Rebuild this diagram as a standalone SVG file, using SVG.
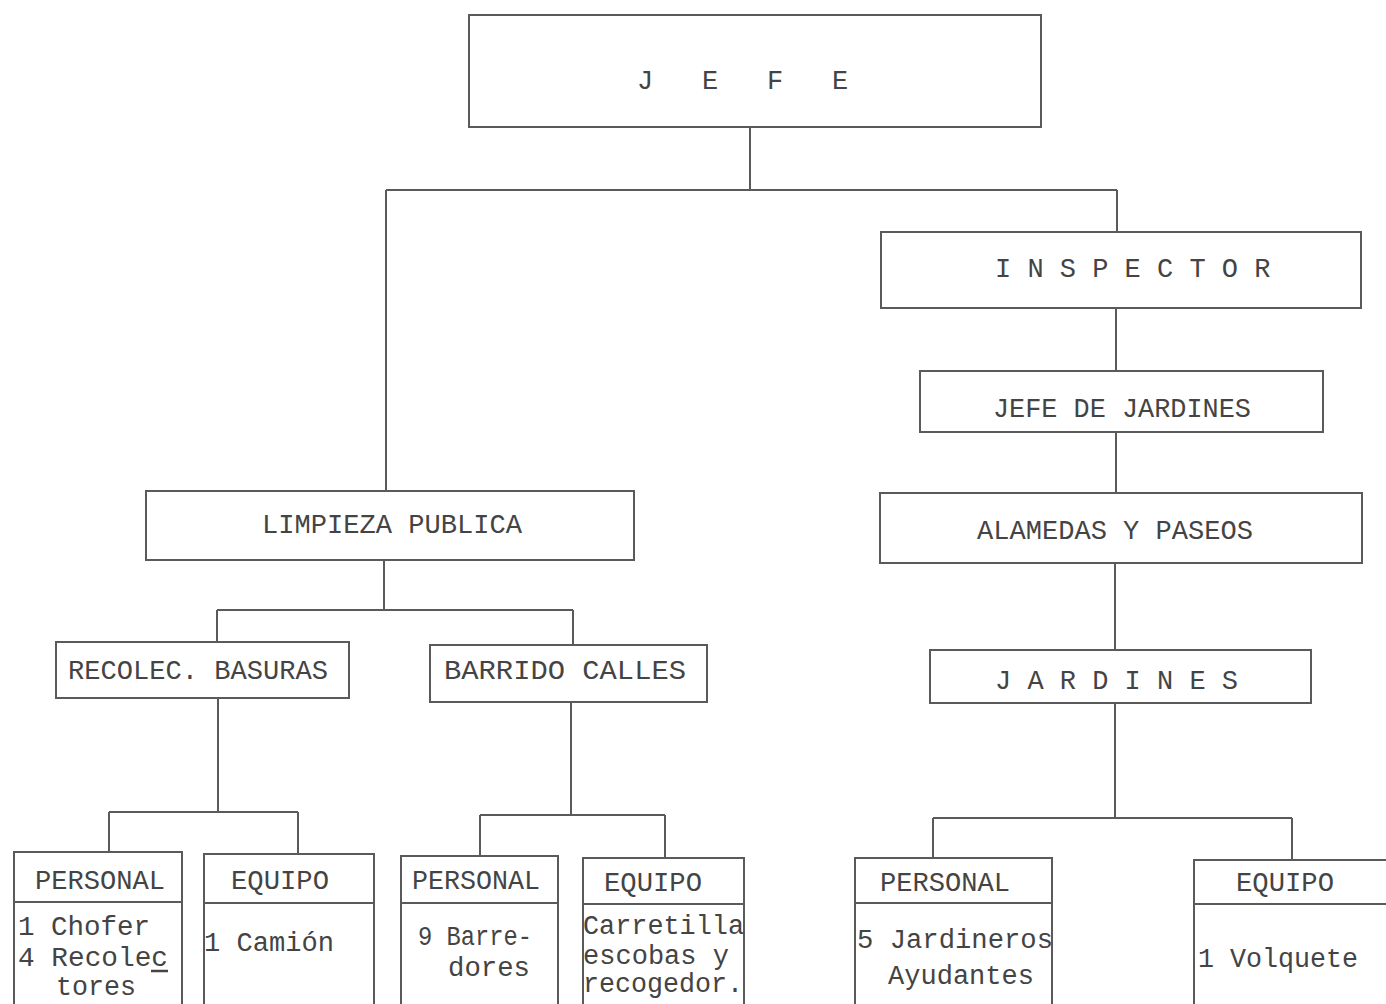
<svg xmlns="http://www.w3.org/2000/svg" width="1386" height="1004" viewBox="0 0 1386 1004">
<style>
.b{fill:none;stroke:#5a5a5a;stroke-width:2}
.c{fill:none;stroke:#5a5a5a;stroke-width:2}
text{font-family:"Liberation Mono","DejaVu Sans Mono",monospace;font-size:27px;fill:#444444}
</style>
<rect width="1386" height="1004" fill="#ffffff"/>
<g id="connectors">
<path class="c" d="M750 127V190M386 190H1117M386 190V490M1117 190V232"/>
<path class="c" d="M1116 308V372M1116 432V493M1115 563V650M1115 703V818M933 818H1292M933 818V858M1292 818V860"/>
<path class="c" d="M384 560V610M217 610H573M217 610V642M573 610V645"/>
<path class="c" d="M218 698V812M109 812H298M109 812V852M298 812V854"/>
<path class="c" d="M571 702V815M480 815H665M480 815V856M665 815V858"/>
</g>
<g id="jefe"><rect class="b" x="469" y="15" width="572" height="112"/>
<text x="637 702 767 832" y="89">JEFE</text></g>
<g id="inspector"><rect class="b" x="881" y="232" width="480" height="76"/>
<text x="995 1027.4 1059.8 1092.2 1124.6 1157 1189.4 1221.8 1254.2" y="277">INSPECTOR</text></g>
<g id="jefe-jardines"><rect class="b" x="920" y="371" width="403" height="61"/>
<text x="1122" y="417" text-anchor="middle" textLength="258" lengthAdjust="spacingAndGlyphs">JEFE DE JARDINES</text></g>
<g id="alamedas"><rect class="b" x="880" y="493" width="482" height="70"/>
<text x="1115" y="539" text-anchor="middle" textLength="276" lengthAdjust="spacingAndGlyphs">ALAMEDAS Y PASEOS</text></g>
<g id="jardines"><rect class="b" x="930" y="650" width="381" height="53"/>
<text x="995 1027.4 1059.8 1092.2 1124.6 1157 1189.4 1221.8" y="689">JARDINES</text></g>
<g id="jardines-personal"><rect class="b" x="855" y="858" width="197" height="150"/>
<line class="b" x1="855" y1="903" x2="1052" y2="903"/>
<text x="945" y="891" text-anchor="middle" textLength="130" lengthAdjust="spacingAndGlyphs">PERSONAL</text>
<text x="857" y="948" textLength="196" lengthAdjust="spacingAndGlyphs">5 Jardineros</text>
<text x="888" y="984" textLength="146" lengthAdjust="spacingAndGlyphs">Ayudantes</text></g>
<g id="jardines-equipo"><rect class="b" x="1194" y="860" width="200" height="150"/>
<line class="b" x1="1194" y1="904" x2="1386" y2="904"/>
<text x="1285" y="891" text-anchor="middle" textLength="98" lengthAdjust="spacingAndGlyphs">EQUIPO</text>
<text x="1198" y="967" textLength="160" lengthAdjust="spacingAndGlyphs">1 Volquete</text></g>
<g id="limpieza"><rect class="b" x="146" y="491" width="488" height="69"/>
<text x="392" y="533" text-anchor="middle" textLength="260" lengthAdjust="spacingAndGlyphs">LIMPIEZA PUBLICA</text></g>
<g id="recolec"><rect class="b" x="56" y="642" width="293" height="56"/>
<text x="68" y="679" textLength="260" lengthAdjust="spacingAndGlyphs">RECOLEC. BASURAS</text></g>
<g id="barrido"><rect class="b" x="430" y="645" width="277" height="57"/>
<text x="444" y="679" textLength="242" lengthAdjust="spacingAndGlyphs">BARRIDO  CALLES</text></g>
<g id="recolec-personal"><rect class="b" x="14" y="852" width="168" height="156"/>
<line class="b" x1="14" y1="902" x2="182" y2="902"/>
<text x="100" y="889" text-anchor="middle" textLength="130" lengthAdjust="spacingAndGlyphs">PERSONAL</text>
<text x="18" y="935" textLength="132" lengthAdjust="spacingAndGlyphs">1 Chofer</text>
<text x="18" y="966" textLength="150" lengthAdjust="spacingAndGlyphs">4 Recolec</text>
<line x1="151" y1="971" x2="168" y2="971" stroke="#444444" stroke-width="2.5"/>
<text x="56" y="995" textLength="80" lengthAdjust="spacingAndGlyphs">tores</text></g>
<g id="recolec-equipo"><rect class="b" x="204" y="854" width="170" height="154"/>
<line class="b" x1="204" y1="903" x2="374" y2="903"/>
<text x="280" y="889" text-anchor="middle" textLength="98" lengthAdjust="spacingAndGlyphs">EQUIPO</text>
<text x="204" y="951" textLength="130" lengthAdjust="spacingAndGlyphs">1 Camión</text></g>
<g id="barrido-personal"><rect class="b" x="401" y="856" width="157" height="152"/>
<line class="b" x1="401" y1="903" x2="558" y2="903"/>
<text x="476" y="889" text-anchor="middle" textLength="128" lengthAdjust="spacingAndGlyphs">PERSONAL</text>
<text x="418" y="945" font-size="25" textLength="114" lengthAdjust="spacingAndGlyphs">9 Barre-</text>
<text x="448" y="976" font-size="25" textLength="82" lengthAdjust="spacingAndGlyphs">dores</text></g>
<g id="barrido-equipo"><rect class="b" x="583" y="858" width="161" height="150"/>
<line class="b" x1="583" y1="904" x2="744" y2="904"/>
<text x="653" y="891" text-anchor="middle" textLength="98" lengthAdjust="spacingAndGlyphs">EQUIPO</text>
<text x="583" y="934" textLength="161" lengthAdjust="spacingAndGlyphs">Carretilla</text>
<text x="583" y="964" textLength="146" lengthAdjust="spacingAndGlyphs">escobas y</text>
<text x="583" y="992" textLength="160" lengthAdjust="spacingAndGlyphs">recogedor.</text></g>
</svg>
